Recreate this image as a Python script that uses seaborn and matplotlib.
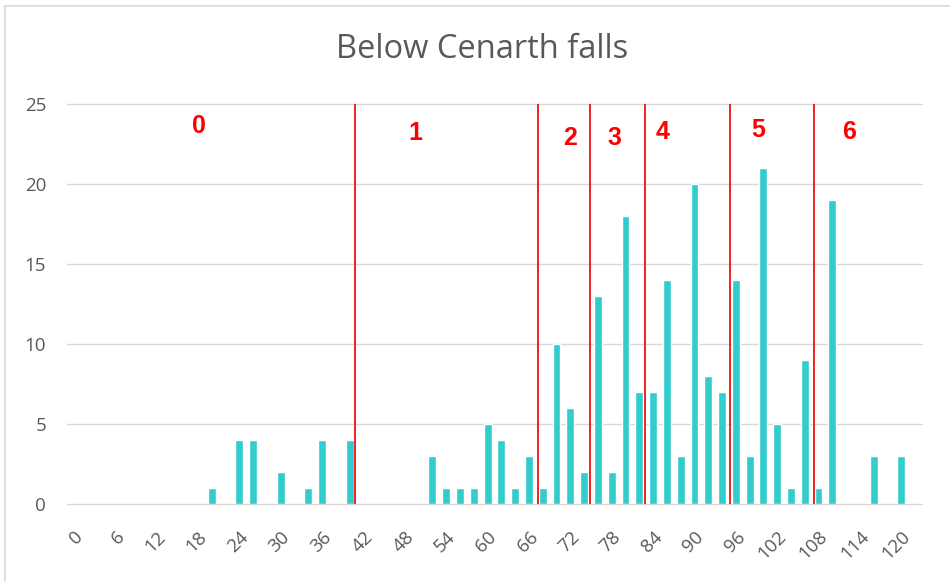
import numpy as np
import pandas as pd
import seaborn as sns
import matplotlib
import matplotlib.pyplot as plt
from matplotlib.lines import Line2D

sns.set_style('white')
matplotlib.rcParams['font.family'] = ['Open Sans', 'DejaVu Sans']

# ---------------- data ----------------
bins = list(range(0, 124, 2))
counts = [0, 0, 0, 0, 0, 0, 0, 0, 0, 0,
          1, 0, 4, 4, 0, 2, 0, 1, 4, 0,
          4, 0, 0, 0, 0, 0, 3, 1, 1, 1,
          5, 4, 1, 3, 1, 10, 6, 2, 13, 2,
          18, 7, 7, 14, 3, 20, 8, 7, 14, 3,
          21, 5, 1, 9, 1, 19, 0, 0, 3, 0,
          3, 0]
tick_labels = [str(b) for b in bins[::3]]

# class boundaries (in bin units) and the class numbers written above them
boundaries = [40.8, 67.3, 74.8, 82.9, 95.1, 107.4]
class_names = ['0', '1', '2', '3', '4', '5', '6']
class_x = [18.2, 49.6, 72.0, 78.4, 85.4, 99.2, 112.4]
class_y = [23.6, 23.2, 22.9, 22.9, 23.25, 23.4, 23.25]

df = pd.DataFrame({'bin': [str(b) for b in bins], 'count': counts})

grey = '#595959'
fig = plt.figure(figsize=(9.5, 5.81), dpi=100)
ax = fig.add_axes([0.0705, 0.1325, 0.9, 0.6885])

sns.barplot(data=df, x='bin', y='count', color='#33CCCC', saturation=1,
            width=0.57, ax=ax)

ax.set_xlim(-0.5, len(bins) - 0.5)
ax.set_ylim(0, 25)
ax.set_yticks(range(0, 26, 5))
ax.yaxis.grid(True, color='#D9D9D9', linewidth=1)
for gl in ax.get_ygridlines():
    gl.set_clip_on(False)
ax.set_axisbelow(True)
ax.set_xticks(range(0, len(bins), 3))
ax.set_xticklabels(tick_labels, rotation=45, ha='right',
                   rotation_mode='anchor', color=grey, fontsize=13.5)
ax.tick_params(axis='y', colors=grey, labelsize=13.5, length=0, pad=15)
ax.tick_params(axis='x', length=0, pad=17)
ax.set_xlabel('')
ax.set_ylabel('')
sns.despine(ax=ax, left=True, bottom=True)

for b in boundaries:
    ax.axvline(b / 2, color='#EE1111', linewidth=1.3)
for name, x, y in zip(class_names, class_x, class_y):
    ax.text(x / 2, y, name, color='#FF0000', fontsize=18, fontweight='bold',
            family='Liberation Sans', ha='center', va='center')

fig.text(0.508, 0.914, 'Below Cenarth falls', color=grey, fontsize=23.5,
         ha='center', va='center')

# chart frame: only the top and left edges show in the screenshot
fig.lines.append(Line2D([0.005, 1.0], [0.99, 0.99], transform=fig.transFigure,
                        color='#D9D9D9', linewidth=1.2))
fig.lines.append(Line2D([0.005, 0.005], [0.0, 0.99], transform=fig.transFigure,
                        color='#D9D9D9', linewidth=1.2))

plt.savefig('out.png', dpi=100)
